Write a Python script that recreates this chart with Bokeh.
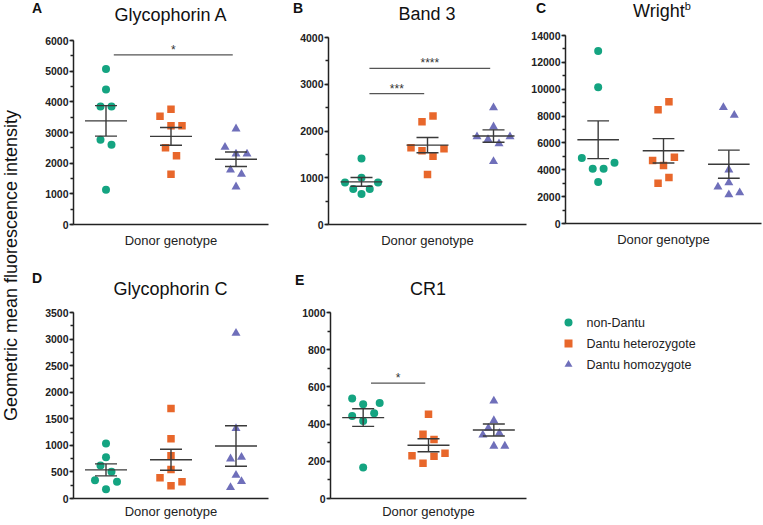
import numpy as np
from math import pi
from bokeh.plotting import figure
from bokeh.layouts import row, column
from bokeh.models import Range1d, SingleIntervalTicker, FixedTicker, Label, Div
from bokeh.embed import file_html
from bokeh.resources import INLINE

FONT = "Liberation Sans"

groups = ["non-Dantu", "Dantu heterozygote", "Dantu homozygote"]
colors = ["#14a481", "#e8672b", "#6f6fba"]
markers = ["circle", "square", "triangle"]
msizes = [8, 7.5, 9]

# ---- data ----
# Panel A: Glycophorin A
gpa_non = [5070, 4400, 3850, 3850, 2760, 2600, 1130]
gpa_het = [3760, 3530, 3220, 3220, 2500, 2240, 1640]
gpa_hom = [3120, 2520, 2300, 2300, 1780, 1640, 1230]
# Panel B: Band 3
band3_non = [1410, 1000, 900, 900, 760, 760, 650]
band3_het = [2320, 2200, 1640, 1620, 1580, 1460, 1070]
band3_hom = [2500, 2090, 1880, 1880, 1820, 1730, 1350]
# Panel C: Wright b
wrb_non = [12850, 10150, 4870, 4520, 4080, 4080, 3090]
wrb_het = [9060, 8470, 4940, 4690, 4320, 3430, 2990]
wrb_hom = [8640, 8070, 4000, 3040, 2720, 2300, 2150]
# Panel D: Glycophorin C
gpc_non = [1035, 778, 621, 502, 345, 314, 176]
gpc_het = [1694, 1123, 803, 546, 389, 314, 238]
gpc_hom = [3112, 1317, 778, 747, 439, 320, 207]
# Panel E: CR1
cr1_non = [538, 513, 507, 459, 444, 417, 167]
cr1_het = [453, 345, 317, 243, 230, 227, 189]
cr1_hom = [525, 419, 378, 351, 342, 282, 282]

# scatter spread of overlapping points (in marker slots, as in the reference)
gpa_spread = [[0, 0, -0.5, 0.5, -0.5, 0.5, 0], [0, -1, 0, 1, -0.5, 0.5, 0], [0, -1, 0, 1, -0.5, 0.5, 0]]
band3_spread = [[0, 0, -1.5, 1.5, -0.75, 0.75, 0], [0.5, -0.5, -1.5, 1.5, -0.5, 0.5, 0], [0, 0, -1.5, 1.5, -0.5, 0.5, 0]]
wrb_spread = [[0, 0, -1.5, 1.5, -0.5, 0.5, 0], [0.5, -0.5, 1, -1, 0, 0.5, -0.5], [-0.5, 0.5, 0, 0, -1, 1, 0]]
gpc_spread = [[0, 0, -0.5, 0.5, -1, 1, 0], [0, 0, 0, 0, -1, 1, 0], [0, 0, 0.5, -0.5, 0, 0.5, -0.5]]
cr1_spread = [[-1, 1.5, 0, 1, -1, 0, 0], [0, -0.5, 0.5, 1.5, -1.5, 0.5, -0.5], [0, 0, -0.5, 0.5, -1, 0, 1]]

# significance bars: (group from, group to, height, label)
gpa_sig = [(1, 3, 5530, "*")]
band3_sig = [(1, 2, 2800, "***"), (1, 3, 3340, "****")]
cr1_sig = [(1, 2, 620, "*")]

x_label = "Donor genotype"
y_label = "Geometric mean fluorescence intensity"


def blank(width, height):
    f = figure(width=width, height=height, x_range=Range1d(0, width),
               y_range=Range1d(height, 0), output_backend="svg",
               toolbar_location=None, title=None, min_border=0,
               x_axis_location=None, y_axis_location=None)
    f.outline_line_color = None
    f.grid.visible = False
    f.background_fill_color = "white"
    f.border_fill_color = "white"
    return f


def header(letter, title_html, width, height, left, fw, letter_x, letter_top,
           title_top):
    html = (
        f'<div style="position:relative;width:{width}px;height:{height}px;'
        f'font-family:\'{FONT}\';color:#111111;margin:0;padding:0;">'
        f'<span style="position:absolute;left:{letter_x}px;top:{letter_top}px;'
        f'font-size:14px;line-height:14px;font-weight:bold;white-space:nowrap;">'
        f'{letter}</span>'
        f'<span style="position:absolute;left:{left}px;width:{fw}px;'
        f'top:{title_top}px;font-size:18px;line-height:18px;text-align:center;'
        f'white-space:nowrap;">{title_html}</span></div>'
    )
    return Div(text=html, width=width, height=height, margin=(0, 0, 0, 0))


def panel(vals, spreads, ymax, major, width, height, left, bottom,
          label_standoff, sig=()):
    right, top = 2, 6
    fw = width - left - right
    fh = height - top - bottom
    p = figure(width=width, height=height, x_range=Range1d(0.5, 3.5),
               y_range=Range1d(0, ymax), output_backend="svg",
               toolbar_location=None, title=None, min_border_left=left,
               min_border_right=right, min_border_top=top,
               min_border_bottom=bottom)
    p.outline_line_color = None
    p.grid.visible = False
    p.background_fill_color = "white"
    p.border_fill_color = "white"

    ya = p.yaxis[0]
    ya.ticker = SingleIntervalTicker(interval=major, num_minor_ticks=2)
    ya.axis_line_color = "#222222"
    ya.axis_line_width = 1.5
    ya.major_tick_line_color = "#222222"
    ya.major_tick_line_width = 1.5
    ya.minor_tick_line_color = "#222222"
    ya.minor_tick_line_width = 1.5
    ya.major_tick_in = 0
    ya.major_tick_out = 4
    ya.minor_tick_in = 0
    ya.minor_tick_out = 3
    ya.major_label_standoff = 1
    ya.major_label_text_font = FONT
    ya.major_label_text_font_style = "bold"
    ya.major_label_text_font_size = "10.5px"
    ya.major_label_text_color = "#222222"

    xa = p.xaxis[0]
    xa.ticker = FixedTicker(ticks=[])
    xa.axis_line_color = "#222222"
    xa.axis_line_width = 1.5
    xa.major_tick_out = 0
    xa.major_tick_in = 0
    xa.minor_tick_out = 0
    xa.major_label_standoff = 0
    xa.axis_label = x_label
    xa.axis_label_standoff = label_standoff
    xa.axis_label_text_font = FONT
    xa.axis_label_text_font_style = "normal"
    xa.axis_label_text_font_size = "13px"
    xa.axis_label_text_color = "#222222"

    px_per_unit = fw / 3.0
    slot = 11.0 / px_per_unit
    for i, (v, sp) in enumerate(zip(vals, spreads)):
        xs = [i + 1 + s * slot for s in sp]
        p.scatter(xs, v, marker=markers[i], size=msizes[i],
                  fill_color=colors[i], line_color=None)

    mean_hw = 21.0 / px_per_unit
    cap_hw = 11.0 / px_per_unit
    x0s, x1s, y0s, y1s = [], [], [], []
    for i, v in enumerate(vals):
        g = i + 1
        m = float(np.mean(v))
        se = float(np.std(v, ddof=1) / np.sqrt(len(v)))
        x0s += [g - mean_hw, g - cap_hw, g - cap_hw, g]
        x1s += [g + mean_hw, g + cap_hw, g + cap_hw, g]
        y0s += [m, m + se, m - se, m - se]
        y1s += [m, m + se, m - se, m + se]
    p.segment(x0=x0s, x1=x1s, y0=y0s, y1=y1s, line_color="#3a3a3a",
              line_width=1.4)

    data_per_px = ymax / float(fh)
    for (g1, g2, hgt, lab) in sig:
        a, b = g1 + 0.12, g2 - 0.05
        p.segment(x0=[a], x1=[b], y0=[hgt], y1=[hgt], line_color="#555555",
                  line_width=1.2)
        p.add_layout(Label(x=(a + b) / 2, y=hgt + 5 * data_per_px, text=lab,
                           text_align="center", text_baseline="alphabetic",
                           text_font=FONT, text_font_size="12px",
                           text_color="#333333"))
    return p, fw


# ---- top row (height 260) ----
pA, fwA = panel([gpa_non, gpa_het, gpa_hom], gpa_spread, 6000, 1000,
                244, 226, 47, 36, 8, sig=gpa_sig)
hA = header("A", "Glycophorin A", 244, 34, 47, fwA, 6, 1, 6)
pB, fwB = panel([band3_non, band3_het, band3_hom], band3_spread, 4000, 1000,
                258, 229, 58, 36, 8, sig=band3_sig)
hB = header("B", "Band 3", 258, 31, 58, fwB, 23, 1, 5)
pC, fwC = panel([wrb_non, wrb_het, wrb_hom], wrb_spread, 14000, 2000,
                235, 231, 35, 37, 8)
hC = header("C", 'Wright<sup style="font-size:11px;line-height:0;">b</sup>',
            235, 29, 35, fwC, 8, 1, 2)

# ---- bottom row (height 265) ----
pD, fwD = panel([gpc_non, gpc_het, gpc_hom], gpc_spread, 3500, 500,
                244, 219, 47, 27, 5)
hD = header("D", "Glycophorin C", 244, 46, 47, fwD, 6, 11, 20)
pE, fwE = panel([cr1_non, cr1_het, cr1_hom], cr1_spread, 1000, 200,
                258, 219, 60, 27, 5, sig=cr1_sig)
hE = header("E", "CR1", 258, 46, 60, fwE, 25, 13, 20)

# legend panel (drawn by hand)
leg = blank(235, 265)
lx, ly, pitch = 40, 62, 21
for i, (g, c, m) in enumerate(zip(groups, colors, markers)):
    leg.scatter([lx], [ly + i * pitch], marker=m, size=8, fill_color=c,
                line_color=None)
    leg.add_layout(Label(x=lx + 18, y=ly + i * pitch, text=g,
                         text_align="left", text_baseline="middle",
                         text_font=FONT, text_font_size="12.5px",
                         text_color="#222222"))

# shared y-axis title
ylab = figure(width=26, height=525, x_range=Range1d(0, 26),
              y_range=Range1d(0, 525), output_backend="svg",
              toolbar_location=None, title=None, min_border=0,
              x_axis_location=None, y_axis_location=None)
ylab.outline_line_color = None
ylab.grid.visible = False
ylab.add_layout(Label(x=10, y=525 - 265, text=y_label, angle=pi / 2,
                      text_align="center", text_baseline="middle",
                      text_font=FONT, text_font_size="18px",
                      text_color="#111111"))

layout = row(ylab,
             column(row(column(hA, pA), column(hB, pB), column(hC, pC)),
                    row(column(hD, pD), column(hE, pE), leg)))
open("out.html", "w").write(file_html(layout, INLINE))
